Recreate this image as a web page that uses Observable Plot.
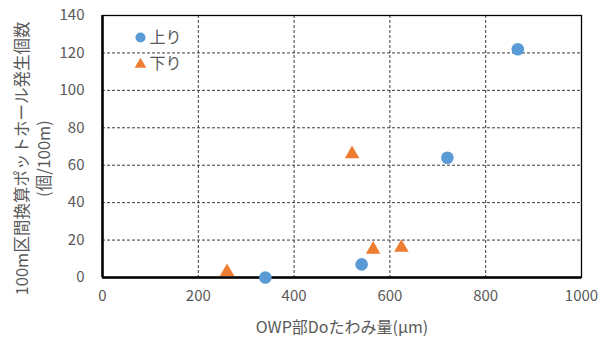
<!DOCTYPE html>
<html><head><meta charset="utf-8">
<script src="https://cdn.jsdelivr.net/npm/d3@7"></script>
<script src="https://cdn.jsdelivr.net/npm/@observablehq/plot@0.6"></script>
<style>body{margin:0;background:#fff}</style>
</head><body><div id="chart"></div>
<script>
// OWP deflection (µm) vs. pothole count per 100 m, by direction
const upX = [340, 541, 720, 867];
const upY = [0, 7, 64, 122];
const downX = [260, 521, 565, 624];
const downY = [3, 66, 15, 16];
const seriesNames = ["上り", "下り"];
const xTicks = [0, 200, 400, 600, 800, 1000];
const yTicks = [0, 20, 40, 60, 80, 100, 120, 140];
const xTitle = "OWP部Doたわみ量(µm)";
const yTitle = "100m区間換算ポットホール発生個数\n(個/100m)";

const up = upX.map((x, i) => ({x, y: upY[i]}));
const down = downX.map((x, i) => ({x, y: downY[i]}));

const BLUE = "#5B9BD5", ORANGE = "#ED7D31", GREY = "#595959";
const FONT = "'Noto Sans CJK JP', 'Noto Sans', sans-serif";

const chart = Plot.plot({
  width: 611,
  height: 341,
  marginLeft: 102,
  marginRight: 30,
  marginTop: 15,
  marginBottom: 64,
  style: {fontFamily: FONT, background: "#fff"},
  x: {domain: [0, 1000]},
  y: {domain: [0, 140]},
  marks: [
    // dashed grid
    Plot.ruleX(xTicks.slice(1, -1), {stroke: "#3a3a3a", strokeDasharray: "3,2", strokeWidth: 1}),
    Plot.ruleY(yTicks.slice(1, -1), {stroke: "#3a3a3a", strokeDasharray: "3,2", strokeWidth: 1}),
    Plot.frame({stroke: "#000", strokeWidth: 1.3}),
    Plot.ruleX([0], {stroke: "#000", strokeWidth: 2.5}),
    Plot.ruleY([0], {stroke: "#000", strokeWidth: 2.5}),
    // axes
    Plot.axisX(xTicks, {tickSize: 0, tickPadding: 13, fontSize: 15, fill: GREY, tickFormat: d => String(d), label: null}),
    Plot.axisY(yTicks, {tickSize: 0, tickPadding: 18, fontSize: 15, fill: GREY, tickFormat: d => String(d), label: null}),
    // axis titles
    Plot.text([xTitle], {frameAnchor: "bottom", dy: 50, lineAnchor: "middle", fontSize: 16, fill: GREY}),
    Plot.text([yTitle], {frameAnchor: "left", rotate: -90, dx: -71, dy: 12, textAnchor: "middle", lineAnchor: "middle", lineHeight: 1.35, fontSize: 16.5, fill: GREY}),
    // data
    Plot.dot(up, {x: "x", y: "y", r: 6.3, fill: BLUE, symbol: "circle"}),
    Plot.dot(down, {x: "x", y: "y", r: 5.4, fill: ORANGE, symbol: "triangle"}),
    // legend
    Plot.dot([seriesNames[0]], {frameAnchor: "top-left", dx: 38, dy: 22, r: 5, fill: BLUE, symbol: "circle"}),
    Plot.text([seriesNames[0]], {frameAnchor: "top-left", dx: 47, dy: 22, textAnchor: "start", lineAnchor: "middle", fontSize: 16, fill: GREY}),
    Plot.dot([seriesNames[1]], {frameAnchor: "top-left", dx: 38, dy: 49, r: 4.3, fill: ORANGE, symbol: "triangle"}),
    Plot.text([seriesNames[1]], {frameAnchor: "top-left", dx: 47, dy: 48, textAnchor: "start", lineAnchor: "middle", fontSize: 16, fill: GREY})
  ]
});
document.getElementById("chart").append(chart);
</script></body></html>
